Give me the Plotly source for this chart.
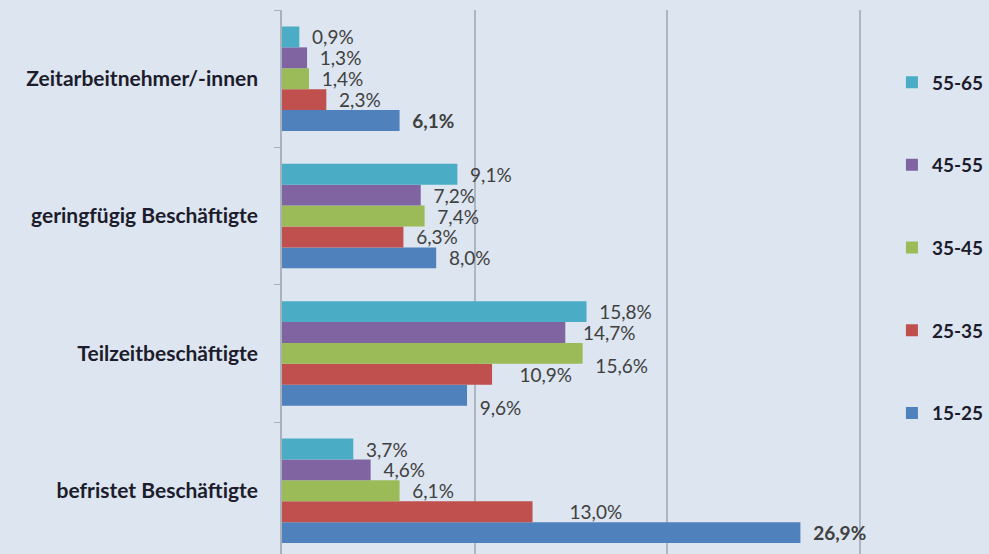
import plotly.graph_objects as go

categories = ["Zeitarbeitnehmer/-innen", "geringfügig Beschäftigte", "Teilzeitbeschäftigte", "befristet Beschäftigte"]
series_names = ["15-25", "25-35", "35-45", "45-55", "55-65"]
v_15_25 = [6.1, 8.0, 9.6, 26.9]
v_25_35 = [2.3, 6.3, 10.9, 13.0]
v_35_45 = [1.4, 7.4, 15.6, 6.1]
v_45_55 = [1.3, 7.2, 14.7, 4.6]
v_55_65 = [0.9, 9.1, 15.8, 3.7]
values = [v_15_25, v_25_35, v_35_45, v_45_55, v_55_65]
x_ticks = [0, 10, 20, 30]

# label styling (which data labels are bold / moved in the original)
bold_labels = {("Zeitarbeitnehmer/-innen", "15-25"), ("befristet Beschäftigte", "15-25")}
labels_moved_down = {("Teilzeitbeschäftigte", "35-45"), ("Teilzeitbeschäftigte", "15-25")}
labels_extra_pad = {("Teilzeitbeschäftigte", "25-35"): 3, ("befristet Beschäftigte", "25-35"): 5,
                    ("Teilzeitbeschäftigte", "45-55"): 1}

colors = ["#4F81BD", "#C0504D", "#9BBB59", "#8064A2", "#4BACC6"]
FONT = "Lato"
BG = "#DCE5F0"

W, H = 989, 554
ML, MR, MT, MB = 282, 122, 10, 0

NB = "\u00a0"
fig = go.Figure()
for i, (name, vals, col) in enumerate(zip(series_names, values, colors)):
    texts = []
    for cat, v in zip(categories, vals):
        lab = f"{v:.1f}%".replace(".", ",")
        if (cat, name) in bold_labels:
            lab = f"<b>{lab}</b>"
        lab = NB * (2 + labels_extra_pad.get((cat, name), 0)) + lab
        if (cat, name) in labels_moved_down:
            lab = NB + "<br>" + lab
        texts.append(lab)
    fig.add_trace(go.Bar(
        y=categories, x=vals, name=name, orientation="h",
        marker=dict(color=col, line=dict(width=0)),
        text=texts, textposition="outside", constraintext="none",
        cliponaxis=False,
        textfont=dict(family=FONT, size=19, color="#404040"),
        legendgroup=name, legendrank=100 - i,
        hoverinfo="x+name",
    ))

fig.update_layout(
    width=W, height=H,
    margin=dict(l=ML, r=MR, t=MT, b=MB, pad=0),
    barmode="group", bargap=0.24, bargroupgap=0,
    paper_bgcolor=BG, plot_bgcolor=BG,
    font=dict(family=FONT, color="#1C1C2C"),
    legend=dict(
        traceorder="grouped", tracegroupgap=55,
        x=1.048, xanchor="left", y=0.902, yanchor="top",
        bgcolor="rgba(0,0,0,0)",
        font=dict(family=FONT, size=19, color="#1C1C2C", weight="bold"),
        itemwidth=30,
    ),
    xaxis=dict(
        range=[0, 30.2], tickvals=x_ticks, showticklabels=False,
        showgrid=True, gridcolor="#AEB6C2", gridwidth=2,
        zeroline=False, showline=False, ticks="",
    ),
    yaxis=dict(
        categoryorder="array", categoryarray=list(reversed(categories)),
        range=[-0.46, 3.5],
        showline=True, linecolor="#A9B1BD", linewidth=1.5,
        ticks="outside", tickson="boundaries", ticklen=6, tickcolor="#A9B1BD",
        tickfont=dict(family=FONT, size=21, color="#1C1C2C", weight="bold"),
        ticklabelstandoff=18,
        showgrid=False,
    ),
)

fig.write_html("out.html", config={"displayModeBar": False},
               post_script="document.body.style.margin='0';")
